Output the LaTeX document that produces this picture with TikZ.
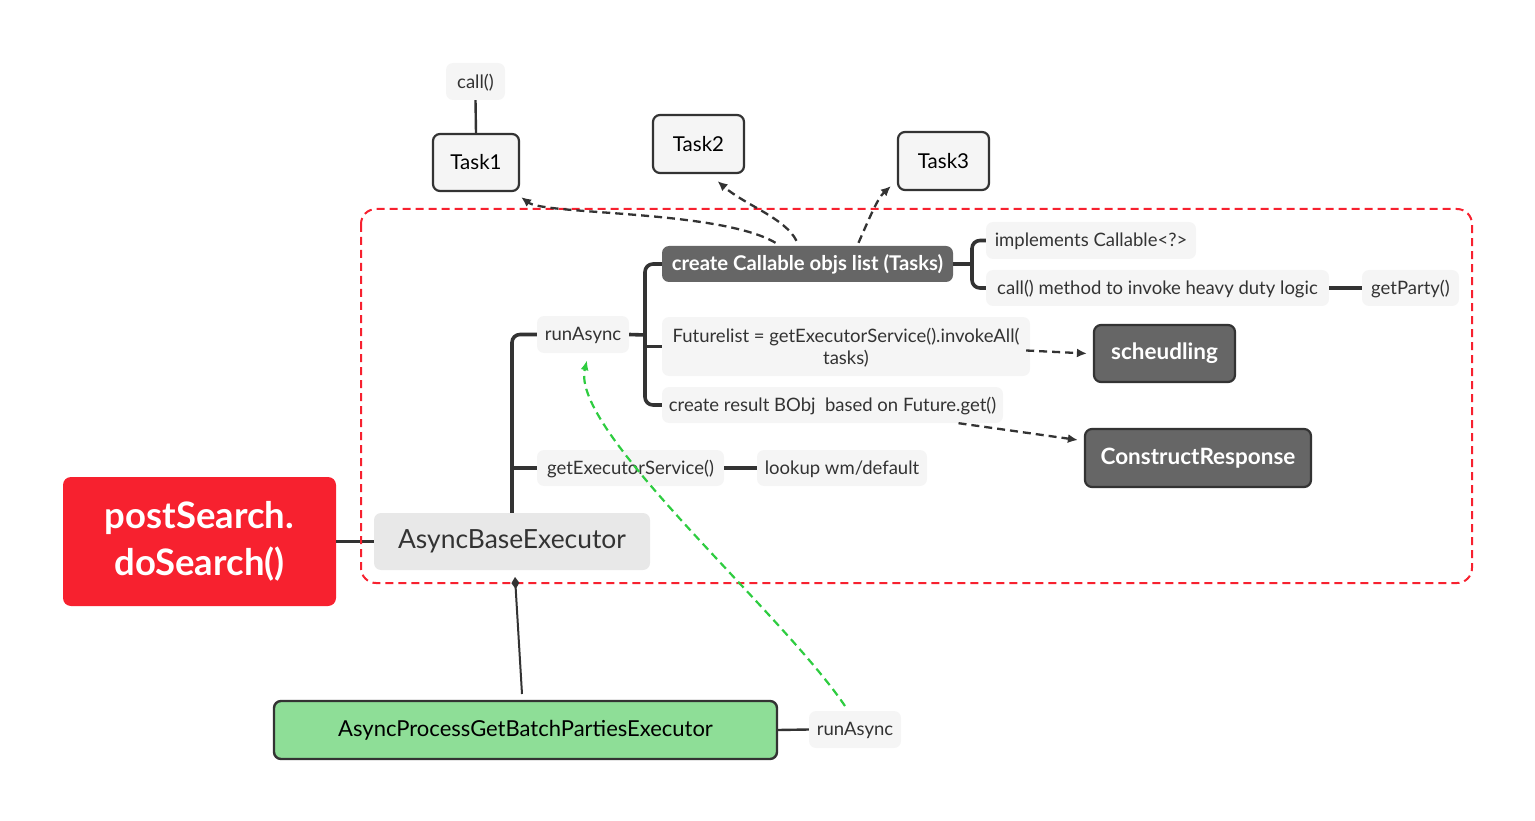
\documentclass[tikz,border=0pt]{standalone}
\usepackage{fontspec}
\setmainfont{Lato}
\usetikzlibrary{arrows.meta,calc}
\definecolor{inkc}{HTML}{333333}
\definecolor{leafc}{HTML}{F5F5F5}
\definecolor{basec}{HTML}{E8E8E8}
\definecolor{darkc}{HTML}{666666}
\definecolor{redc}{HTML}{F7212F}
\definecolor{greenc}{HTML}{8EDE97}
\definecolor{arrowgreen}{HTML}{2ECC40}
\begin{document}
\begin{tikzpicture}[x=1pt,y=-1pt,
  leaf/.style={fill=leafc, rounded corners=7pt, inner sep=0pt, text=inkc,
    text depth=1pt, font=\fontsize{18.5}{22}\selectfont},
  taskbox/.style={draw=inkc, line width=2.2pt, fill=leafc, rounded corners=7pt,
    inner sep=0pt, text=black, font=\fontsize{20.5}{24}\selectfont},
  darkbox/.style={draw=inkc, line width=2.2pt, fill=darkc, rounded corners=7pt,
    inner sep=0pt, text=white, font=\bfseries\fontsize{22.5}{26}\selectfont},
  tree/.style={draw=inkc, line width=3.6pt, rounded corners=8pt},
  thinlink/.style={draw=inkc, line width=2.4pt},
  dasharrow/.style={draw=inkc, line width=2.3pt, dash pattern=on 8pt off 5pt,
    -{Latex[length=10pt,width=9pt]}},
]
\useasboundingbox (0,0) rectangle (1535,821);

% --- nodes -------------------------------------------------------------
\node[leaf, minimum width=59pt, minimum height=37pt] (callA) at (475.5,81.5) {call()};
\node[taskbox, minimum width=86pt, minimum height=57pt] (task1) at (476,162.5) {Task1};
\node[taskbox, minimum width=91pt, minimum height=58pt] (task2) at (698.5,144) {Task2};
\node[taskbox, minimum width=91pt, minimum height=58pt] (task3) at (943.5,161) {Task3};

\node[fill=darkc, rounded corners=7pt, inner sep=0pt, text=white,
  font=\bfseries\fontsize{20.3}{24}\selectfont,
  minimum width=291pt, minimum height=36pt] (create) at (807.5,264) {create Callable objs list (Tasks)};
\node[leaf, minimum width=210pt, minimum height=37pt] (impl) at (1091,240.5) {implements Callable<?>};
\node[leaf, minimum width=343pt, minimum height=36pt] (callm) at (1157.5,288) {call() method to invoke heavy duty logic};
\node[leaf, minimum width=97pt, minimum height=36pt] (party) at (1410.5,288) {getParty()};

\node[leaf, minimum width=92pt, minimum height=37pt] (runA) at (583,334.5) {runAsync};
\node[leaf, minimum width=368pt, minimum height=59pt, align=center,
  font=\fontsize{18.5}{22}\selectfont] (fut) at (846,346.5)
  {Futurelist = getExecutorService().invokeAll(\\tasks)};
\node[leaf, minimum width=341pt, minimum height=36pt] (cres) at (832.5,405) {create result BObj\ \ based on Future.get()};

\node[darkbox, minimum width=141pt, minimum height=57pt] (sched) at (1164.5,353.5) {scheudling};
\node[darkbox, minimum width=226pt, minimum height=58pt] (resp) at (1198,458) {ConstructResponse};

\node[leaf, minimum width=187pt, minimum height=36pt] (getex) at (630.5,468) {getExecutorService()};
\node[leaf, minimum width=170pt, minimum height=36pt] (lookup) at (842,468) {lookup wm/default};

\node[fill=basec, rounded corners=7pt, inner sep=0pt, text=inkc,
  font=\fontsize{26.4}{30}\selectfont,
  minimum width=276pt, minimum height=57pt] (base) at (512,541.5) {AsyncBaseExecutor};

\node[fill=redc, rounded corners=8pt, inner sep=0pt, text=white, align=center,
  font=\bfseries\fontsize{36.5}{47}\selectfont,
  minimum width=273pt, minimum height=129pt] (post) at (199.5,541.5) {postSearch.\\doSearch()};

\node[draw=inkc, line width=2.4pt, fill=greenc, rounded corners=7pt, inner sep=0pt,
  text=black, font=\fontsize{22}{26}\selectfont,
  minimum width=503pt, minimum height=58pt] (proc) at (525.5,730) {AsyncProcessGetBatchPartiesExecutor};
\node[leaf, minimum width=92pt, minimum height=37pt] (runB) at (855,729.5) {runAsync};

% --- tree connectors -----------------------------------------------------
\coordinate (stemA) at (645,335);
\coordinate (stemB) at (972,264);
\draw[thinlink] (callA.south) -- (task1.north);
\draw[tree] (post.east) -- (base.west);
\draw[tree] (base.north) |- (runA.west);
\draw[tree] (base.north |- getex.west) -- (getex.west);
\draw[tree] (getex.east) -- (lookup.west);
\draw[tree] (runA.east) -- (stemA);
\draw[tree] (create.west) -| (stemA) |- (cres.west);
\draw[tree] (stemA |- fut.west) -- (fut.west);
\draw[tree] (create.east) -- (stemB);
\draw[tree] (impl.west) -| (stemB) |- (callm.west);
\draw[tree] (callm.east) -- (party.west);
\draw[thinlink] (proc.east) -- (runB.west);

% --- container -----------------------------------------------------------
\draw[redc, line width=2pt, dash pattern=on 8pt off 5pt, rounded corners=15pt]
  (361,209) rectangle (1472,583);

% --- dashed relations ----------------------------------------------------
\draw[dasharrow] ([xshift=-32pt,yshift=3pt]create.north)
  .. controls (720,210) and (545,215) .. ([xshift=1pt,yshift=-5pt]task1.south east);
\draw[dasharrow] ([xshift=-11pt,yshift=5pt]create.north)
  .. controls (785,218) and (745,205) .. ([xshift=19pt,yshift=-7pt]task2.south);
\draw[dasharrow] ([xshift=51pt,yshift=3pt]create.north)
  .. controls (872,212) and (878,198) .. ([xshift=-6pt,yshift=5pt]task3.south west);
\draw[dasharrow] ([xshift=-4pt,yshift=-4pt]fut.east) -- ([xshift=-6pt]sched.west);
\draw[dasharrow] ([xshift=126pt]cres.south) -- ([xshift=-6pt,yshift=18pt]resp.west);

% --- inheritance and call-back -------------------------------------------
\coordinate (inhA) at (522,694);
\coordinate (inhB) at (515,577);
\draw[draw=inkc, line width=2pt, {Diamond[length=12pt,width=8pt]}-] (inhB) -- (inhA);

\coordinate (cbStart) at (845,706);
\draw[arrowgreen, line width=2.2pt, dash pattern=on 8pt off 5pt, -{Latex[length=10pt,width=8pt]}]
  (cbStart) .. controls (780,610) and (570,430) .. ([xshift=4pt,yshift=-7pt]runA.south);
\end{tikzpicture}
\end{document}
